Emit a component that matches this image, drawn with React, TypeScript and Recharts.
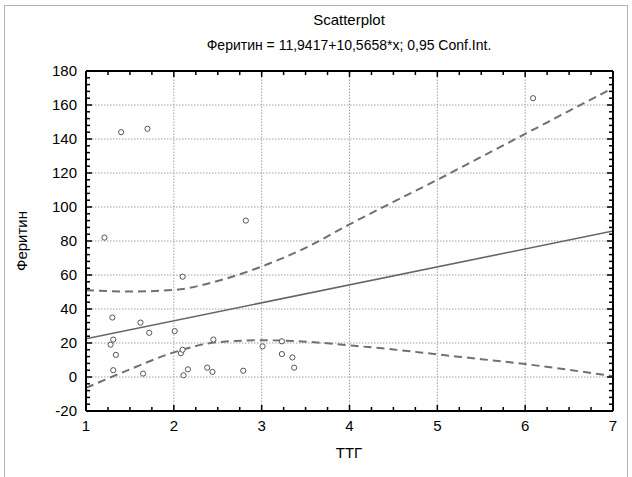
import React from 'react';
import { ComposedChart, Scatter, Line, XAxis, YAxis, ReferenceLine } from 'recharts';

// ТТГ vs Феритин
const points = [
  { x: 1.21, y: 82 },
  { x: 1.4, y: 144 },
  { x: 1.7, y: 146 },
  { x: 2.82, y: 92 },
  { x: 2.1, y: 59 },
  { x: 1.3, y: 35 },
  { x: 1.62, y: 32 },
  { x: 1.31, y: 22 },
  { x: 1.28, y: 19 },
  { x: 1.72, y: 26 },
  { x: 2.01, y: 27 },
  { x: 1.34, y: 13 },
  { x: 1.31, y: 4 },
  { x: 1.65, y: 2 },
  { x: 2.08, y: 14 },
  { x: 2.1, y: 16 },
  { x: 2.11, y: 1 },
  { x: 2.16, y: 4.5 },
  { x: 2.45, y: 22 },
  { x: 3.01, y: 18 },
  { x: 3.23, y: 21 },
  { x: 3.23, y: 13.5 },
  { x: 3.35, y: 11.5 },
  { x: 3.37, y: 5.5 },
  { x: 2.38, y: 5.5 },
  { x: 2.44, y: 3 },
  { x: 2.79, y: 3.7 },
  { x: 6.09, y: 164 },
];

const fitLine = [
  { x: 1, y: 22.5 },
  { x: 7, y: 85.9 },
];

const bandX = [1, 1.5, 2, 2.5, 3, 3.5, 4, 4.5, 5, 5.5, 6, 6.5, 7];
const upperBand = [51, 50.3, 51.2, 56.5, 65, 76, 89.8, 103, 116, 129.5, 143, 156.5, 170];
const lowerBand = [-6.4, 4.5, 14.5, 20.5, 21.6, 20.8, 18.6, 16.2, 13.3, 10.5, 7.6, 4.2, 0.5];

const upperData = bandX.map((x, i) => ({ x, y: upperBand[i] }));
const lowerData = bandX.map((x, i) => ({ x, y: lowerBand[i] }));

const xTicks = [1, 2, 3, 4, 5, 6, 7];
const yTicks = [-20, 0, 20, 40, 60, 80, 100, 120, 140, 160, 180];

// minor ticks: 4 per x unit, 5 per 20 on y
const xMinor = xTicks.slice(0, -1).flatMap((t) => [t, t + 0.25, t + 0.5, t + 0.75]).concat(7);
const yMinor = yTicks.slice(0, -1).flatMap((t) => [t, t + 4, t + 8, t + 12, t + 16]).concat(180);

const GAP = 6;
const FONT = '"Liberation Sans", Arial, sans-serif';
const MAJOR = 6;
const MINOR = 4;
const TW = 1.5;

const isMajorX = (v: number) => xTicks.includes(v);
const isMajorY = (v: number) => yTicks.includes(v);

// tick props: x/y is the label anchor, GAP (tickMargin) away from the axis line
const BottomTick = ({ x, y, payload }: any) => {
  const ay = y - GAP;
  const major = isMajorX(payload.value);
  const len = major ? MAJOR : MINOR;
  return (
    <g>
      <rect x={x - TW / 2} y={ay - len} width={TW} height={len} fill="#000" />
      {major && (
        <text x={x} y={ay + 20} textAnchor="middle" fontSize={15} fontFamily={FONT} fill="#000">
          {payload.value}
        </text>
      )}
    </g>
  );
};

const LeftTick = ({ x, y, payload }: any) => {
  const ax = x + GAP;
  const major = isMajorY(payload.value);
  const len = major ? MAJOR : MINOR;
  return (
    <g>
      <rect x={ax} y={y - TW / 2} width={len} height={TW} fill="#000" />
      {major && (
        <text x={ax - 9} y={y + 5} textAnchor="end" fontSize={15} fontFamily={FONT} fill="#000">
          {payload.value}
        </text>
      )}
    </g>
  );
};

const RightTick = ({ x, y, payload }: any) => {
  const ax = x - GAP;
  const len = isMajorY(payload.value) ? MAJOR : MINOR;
  return <rect x={ax - len} y={y - TW / 2} width={len} height={TW} fill="#000" />;
};

const OpenDot = ({ cx, cy }: any) => (
  <circle cx={cx} cy={cy} r={2.6} fill="#fff" stroke="#555" strokeWidth={1} />
);

const frame = { stroke: '#000', strokeWidth: 2 };

export default function App() {
  return (
    <div style={{ position: 'absolute', left: 0, top: 0, width: 632, height: 477, background: '#fff', overflow: 'hidden' }}>
      <div
        style={{
          position: 'absolute',
          left: 4,
          top: 5,
          width: 622,
          height: 490,
          border: '1px solid #b4b4b4',
        }}
      />
      <ComposedChart width={632} height={477} margin={{ top: 61, right: 9, bottom: 0, left: 0 }}>
        <XAxis
          xAxisId={0}
          dataKey="x"
          type="number"
          domain={[1, 7]}
          ticks={xMinor}
          interval={0}
          allowDataOverflow
          height={66}
          tickSize={0}
          tickMargin={GAP}
          tick={<BottomTick />}
          axisLine={frame}
        />
        <XAxis
          xAxisId="top"
          orientation="top"
          type="number"
          domain={[1, 7]}
          allowDataOverflow
          height={10}
          tick={false}
          tickLine={false}
          axisLine={frame}
        />
        <YAxis
          yAxisId={0}
          dataKey="y"
          type="number"
          domain={[-20, 180]}
          ticks={yMinor}
          interval={0}
          allowDataOverflow
          width={86}
          tickSize={0}
          tickMargin={GAP}
          tick={<LeftTick />}
          axisLine={frame}
        />
        <YAxis
          yAxisId="right"
          orientation="right"
          type="number"
          domain={[-20, 180]}
          ticks={yMinor}
          interval={0}
          allowDataOverflow
          width={10}
          tickSize={0}
          tickMargin={GAP}
          tick={<RightTick />}
          axisLine={frame}
        />
        {xTicks.slice(1, -1).map((t) => (
          <ReferenceLine key={'gx' + t} x={t} stroke="#a0a0a0" strokeDasharray="1.5 1.5" />
        ))}
        {yTicks.slice(1, -1).map((t) => (
          <ReferenceLine key={'gy' + t} y={t} stroke="#a0a0a0" strokeDasharray="1.5 1.5" />
        ))}
        {/* inward tick marks on the top edge of the frame */}
        {xMinor.map((t) => (
          <ReferenceLine
            key={'tt' + t}
            segment={[
              { x: t, y: 180 },
              { x: t, y: 180 - (isMajorX(t) ? 3.5 : 2.4) },
            ]}
            stroke="#000"
            strokeWidth={TW}
          />
        ))}
        <Line
          data={fitLine}
          dataKey="y"
          type="linear"
          stroke="#666"
          strokeWidth={1.6}
          dot={false}
          activeDot={false}
          isAnimationActive={false}
        />
        <Line
          data={upperData}
          dataKey="y"
          type="monotone"
          stroke="#707070"
          strokeWidth={2}
          strokeDasharray="8 5"
          dot={false}
          activeDot={false}
          isAnimationActive={false}
        />
        <Line
          data={lowerData}
          dataKey="y"
          type="monotone"
          stroke="#707070"
          strokeWidth={2}
          strokeDasharray="8 5"
          dot={false}
          activeDot={false}
          isAnimationActive={false}
        />
        <Scatter data={points} dataKey="y" shape={<OpenDot />} isAnimationActive={false} />
      </ComposedChart>
      <svg width={632} height={477} style={{ position: 'absolute', left: 0, top: 0, pointerEvents: 'none' }}>
        <text x={349} y={25} textAnchor="middle" fontSize={15} fontFamily={FONT} fill="#000">
          Scatterplot
        </text>
        <text x={349} y={50} textAnchor="middle" fontSize={14} fontFamily={FONT} fill="#000">
          Феритин = 11,9417+10,5658*x; 0,95 Conf.Int.
        </text>
        <text x={349} y={458} textAnchor="middle" fontSize={15} fontFamily={FONT} fill="#000">
          ТТГ
        </text>
        <text
          x={27}
          y={241}
          textAnchor="middle"
          fontSize={15}
          fontFamily={FONT}
          fill="#000"
          transform="rotate(-90 27 241)"
        >
          Феритин
        </text>
      </svg>
    </div>
  );
}
